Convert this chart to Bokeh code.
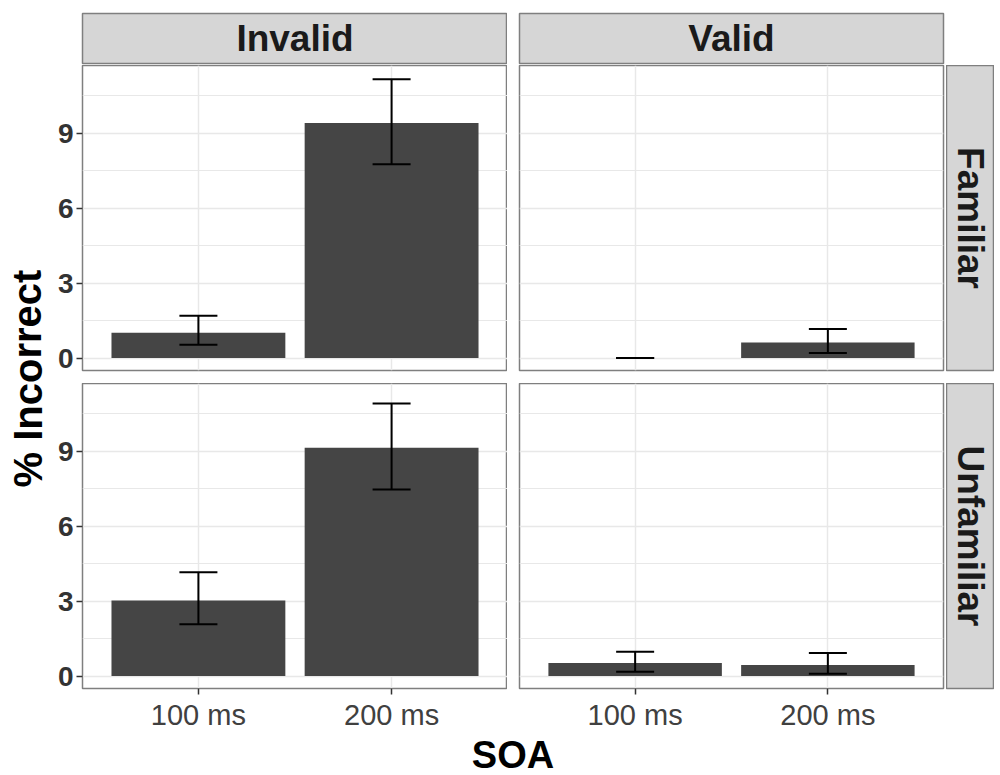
from bokeh.plotting import figure
from bokeh.models import (GridBox, Range1d, FactorRange, FixedTicker,
                          ColumnDataSource, Whisker, TeeHead)
from bokeh.core.properties import value
from bokeh.embed import file_html
from bokeh.resources import INLINE

# ---------------- data ----------------
soa = ["100 ms", "200 ms"]
cues = ["Invalid", "Valid"]
faces = ["Familiar", "Unfamiliar"]

inv_fam_mean = [1.01, 9.42]
inv_fam_lo = [0.53, 7.76]
inv_fam_hi = [1.69, 11.17]

val_fam_mean = [0.0, 0.62]
val_fam_lo = [0.0, 0.20]
val_fam_hi = [0.0, 1.16]

inv_unf_mean = [3.03, 9.15]
inv_unf_lo = [2.07, 7.47]
inv_unf_hi = [4.16, 10.92]

val_unf_mean = [0.52, 0.44]
val_unf_lo = [0.17, 0.09]
val_unf_hi = [0.97, 0.92]

y_ticks = [0, 3, 6, 9]
y_minor = [1.5, 4.5, 7.5, 10.5]
y_title = "% Incorrect"
x_title = "SOA"

# ---------------- style / layout ----------------
FONT = "Liberation Sans"
BAR = "#454545"
GRID = "#e8e8e8"
BORDER = "#7f7f7f"
STRIP_FILL = "#d6d6d6"

YLAB_W = 50
AX_W = 32
GAP = 12
FW_L, FW_R = 425, 424
FH = 305
STRIP_H = 50
STRIP_W = 48
TOP_PAD = 13
STRIP_GAP = 2
ROW_GAP = 13
BOT_AX = 44
XT_H = 43

yr = Range1d(-0.5, 11.72)
xr = FactorRange(factors=soa, range_padding=0.1)


def panel(mean, lo, hi, left, bottom):
    p = figure(x_range=xr, y_range=yr, title=None,
               frame_width=FW_L if left else FW_R, frame_height=FH,
               output_backend="svg", toolbar_location=None,
               x_axis_location="below" if bottom else None,
               y_axis_location="left" if left else None,
               min_border_left=AX_W if left else GAP,
               min_border_right=0 if left else 3,
               min_border_top=0,
               min_border_bottom=BOT_AX if bottom else ROW_GAP)
    p.background_fill_color = "white"
    p.border_fill_color = "white"
    p.outline_line_color = BORDER
    p.outline_line_width = 1.5

    p.xgrid.grid_line_color = GRID
    p.xgrid.grid_line_width = 1.5
    p.ygrid.ticker = FixedTicker(ticks=y_ticks, minor_ticks=y_minor)
    p.ygrid.grid_line_color = GRID
    p.ygrid.grid_line_width = 1.5
    p.ygrid.minor_grid_line_color = GRID
    p.ygrid.minor_grid_line_width = 1

    src = ColumnDataSource(dict(x=soa, top=mean, lo=lo, hi=hi))
    p.vbar(x="x", top="top", width=0.9, source=src,
           fill_color=BAR, line_color=None)
    w = Whisker(source=src, base="x", upper="hi", lower="lo",
                dimension="height", line_color="black", line_width=2,
                level="overlay",
                upper_head=TeeHead(size=38, line_width=2, line_color="black"),
                lower_head=TeeHead(size=38, line_width=2, line_color="black"))
    p.add_layout(w)

    if left:
        ax = p.yaxis[0]
        ax.axis_label = None
        ax.ticker = FixedTicker(ticks=y_ticks, minor_ticks=y_minor)
        ax.axis_line_color = None
        ax.major_tick_line_color = "#333333"
        ax.major_tick_line_width = 1.5
        ax.major_tick_out = 6
        ax.major_tick_in = 0
        ax.minor_tick_line_color = None
        ax.major_label_standoff = 3
        ax.major_label_text_font = FONT
        ax.major_label_text_font_size = "28px"
        ax.major_label_text_font_style = "bold"
        ax.major_label_text_color = "#333333"
    if bottom:
        ax = p.xaxis[0]
        ax.axis_label = None
        ax.axis_line_color = None
        ax.major_tick_line_color = "#333333"
        ax.major_tick_line_width = 1.5
        ax.major_tick_out = 6
        ax.major_tick_in = 0
        ax.minor_tick_line_color = None
        ax.major_label_standoff = 4
        ax.major_label_text_font = FONT
        ax.major_label_text_font_size = "29px"
        ax.major_label_text_color = "#404040"
    return p


def strip(text, fw, fh, angle, mbl, mbr, mbt, mbb):
    s = figure(x_range=Range1d(0, 1), y_range=Range1d(0, 1), title=None,
               frame_width=fw, frame_height=fh,
               output_backend="svg", toolbar_location=None,
               x_axis_location=None, y_axis_location=None,
               min_border_left=mbl, min_border_right=mbr,
               min_border_top=mbt, min_border_bottom=mbb)
    s.background_fill_color = STRIP_FILL
    s.border_fill_color = "white"
    s.outline_line_color = BORDER
    s.outline_line_width = 1.5
    s.grid.visible = False
    s.text(x=[0.5], y=[0.5], text=[text], angle=angle,
           text_align="center", text_baseline="middle",
           text_font=value(FONT), text_font_style="bold",
           text_font_size="37px", text_color="#1a1a1a")
    return s


def label_fig(text, fw, fh, x, y, angle, size):
    f = figure(x_range=Range1d(0, 1), y_range=Range1d(0, 1), title=None,
               frame_width=fw, frame_height=fh,
               output_backend="svg", toolbar_location=None,
               x_axis_location=None, y_axis_location=None, min_border=0)
    f.outline_line_color = None
    f.background_fill_color = "white"
    f.border_fill_color = "white"
    f.grid.visible = False
    f.text(x=[x], y=[y], text=[text], angle=angle,
           text_align="center", text_baseline="middle",
           text_font=value(FONT), text_font_style="bold",
           text_font_size=size, text_color="black")
    return f


p_tl = panel(inv_fam_mean, inv_fam_lo, inv_fam_hi, True, False)
p_tr = panel(val_fam_mean, val_fam_lo, val_fam_hi, False, False)
p_bl = panel(inv_unf_mean, inv_unf_lo, inv_unf_hi, True, True)
p_br = panel(val_unf_mean, val_unf_lo, val_unf_hi, False, True)

s_inv = strip(cues[0], FW_L, STRIP_H, 0, AX_W, 0, TOP_PAD, STRIP_GAP)
s_val = strip(cues[1], FW_R, STRIP_H, 0, GAP, 3, TOP_PAD, STRIP_GAP)
s_fam = strip(faces[0], STRIP_W, FH, -1.5708, 0, 0, 0, ROW_GAP)
s_unf = strip(faces[1], STRIP_W, FH, -1.5708, 0, 0, 0, BOT_AX)

# y title: centred near the middle of the two panel rows
top0 = TOP_PAD + STRIP_H + STRIP_GAP
ylab_h = FH + ROW_GAP + FH + BOT_AX
ylab_y = 1 - (378 - top0) / ylab_h
ylab = label_fig(y_title, YLAB_W, ylab_h, 0.54, ylab_y, 1.5708, "40px")

# x title: centred on the two panel columns
tot_w = YLAB_W + AX_W + FW_L + GAP + FW_R + 3 + STRIP_W
xlab_x = (YLAB_W + AX_W + (FW_L + GAP + FW_R) / 2) / tot_w
xlab = label_fig(x_title, tot_w, XT_H, xlab_x, 0.5, 0, "38px")

grid = GridBox(children=[
    (s_inv, 0, 1), (s_val, 0, 2),
    (ylab, 1, 0, 2, 1),
    (p_tl, 1, 1), (p_tr, 1, 2), (s_fam, 1, 3),
    (p_bl, 2, 1), (p_br, 2, 2), (s_unf, 2, 3),
    (xlab, 3, 0, 1, 4),
], spacing=0)

open("out.html", "w").write(file_html(grid, INLINE))
